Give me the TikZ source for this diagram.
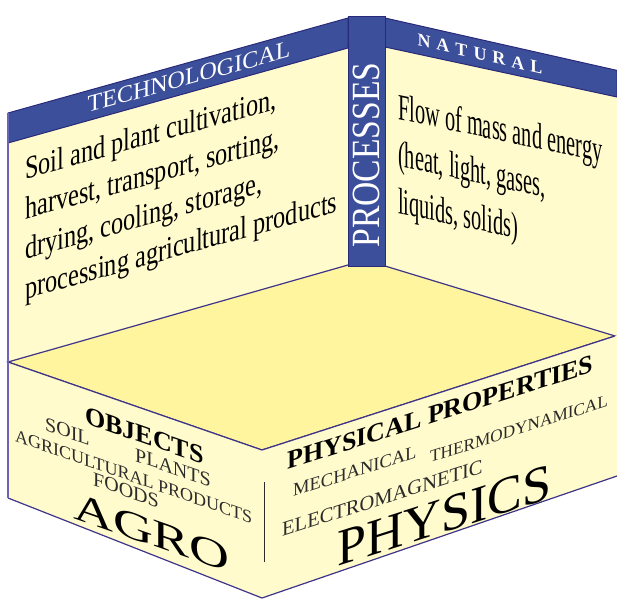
\documentclass[tikz,border=0pt]{standalone}
\usepackage{fontspec}
\setmainfont{Liberation Serif}
\newfontfamily\narrowL[FakeStretch=0.76]{Liberation Serif}
\newfontfamily\narrowR[FakeStretch=0.55]{Liberation Serif}
\newfontfamily\procfont[FakeStretch=0.84]{Liberation Serif}
\newfontfamily\widefont[FakeStretch=1.38]{Liberation Serif}
\usepackage{xcolor}
\usepackage{tikz}

\definecolor{bandblue}{HTML}{3C4F9A}
\definecolor{bandline}{HTML}{2A2A7A}
\definecolor{wallcream}{HTML}{FFFBCC}
\definecolor{flooryellow}{HTML}{FFF59E}
\definecolor{edgeline}{HTML}{3E3488}
\definecolor{sideline}{HTML}{6C64B4}
\definecolor{inkgray}{HTML}{2B2B2B}

\begin{document}
\begin{tikzpicture}[x=1pt, y=-1pt,
  band/.style={fill=bandblue, draw=bandline, line width=1pt},
  edge/.style={draw=edgeline, line width=1.2pt},
  bandtext/.style={text=white, inner sep=0pt, anchor=center},
  lefttext/.style={font=\narrowL\fontsize{32}{40}\selectfont, align=left, anchor=north west, inner sep=0pt, yslant=0.28},
  righttext/.style={font=\narrowR\fontsize{37}{47}\selectfont, align=left, anchor=north west, inner sep=0pt, yslant=-0.21},
  frontl/.style={font=\fontsize{#1}{#1}\selectfont, anchor=base west, inner sep=0pt, yslant=-0.35},
  frontr/.style={font=\fontsize{#1}{#1}\selectfont, anchor=base west, inner sep=0pt, yslant=0.32},
]
  \useasboundingbox (0,0) rectangle (617,601);

  % back walls
  \fill[wallcream] (8,113) -- (348,18) -- (348,265) -- (8,362) -- cycle;
  \fill[wallcream] (385,18) -- (617,70.4) -- (617,338) -- (385,266) -- cycle;

  % floor
  \filldraw[fill=flooryellow, edge] (8,362) -- (348,265) -- (385,266) -- (615,336) -- (262,450) -- cycle;

  % front faces
  \fill[wallcream] (8,362) -- (262,450) -- (262,598) -- (8,498) -- cycle;
  \fill[wallcream] (262,450) -- (615,336) -- (617,336) -- (617,476) -- (262,598) -- cycle;
  \draw[edge] (8,362) -- (262,450) -- (615,336);
  \draw[edge] (8,498) -- (262,598) -- (617,476);
  \draw[inkgray, line width=1pt] (264,482) -- (264,562);

  % bands and column
  \filldraw[band] (8,113) -- (348,18) -- (348,48) -- (8,143) -- cycle;
  \filldraw[band] (385,18) -- (617,70.4) -- (617,97) -- (385,47) -- cycle;
  \filldraw[band] (348,17) rectangle (385,266);
  \draw[sideline, line width=2pt] (8,113) -- (8,498);

  % headings
  \node[bandtext, font=\fontsize{24}{24}\selectfont, yslant=0.275] (techlabel) at (189,77) {TECHNOLOGICAL};
  \node[bandtext, font=\bfseries\fontsize{18}{18}\selectfont, yslant=-0.23] (natlabel) at (480,54)
    {N\kern6pt A\kern6pt T\kern6pt U\kern6pt R\kern6pt A\kern6pt L};
  \node[bandtext, font=\procfont\fontsize{40}{40}\selectfont, rotate=90] (proclabel) at (366,155) {PROCESSES};

  % wall texts
  \node[lefttext] (techtext) at (25,157)
    {Soil and plant cultivation,\\harvest, transport, sorting,\\drying, cooling, storage,\\processing agricultural products};
  \node[righttext] (nattext) at (398,93)
    {Flow of mass and energy\\(heat, light, gases,\\liquids, solids)};

  % agro face
  \node[frontl=26] (objects) at (85,423) {\bfseries OBJECTS};
  \node[frontl=20, text=inkgray] (soil) at (45,430) {SOIL};
  \node[frontl=20, text=inkgray] (plants) at (135,461) {PLANTS};
  \node[frontl=18, text=inkgray] (agriprod) at (15,441) {AGRICULTURAL PRODUCTS};
  \node[frontl=20, text=inkgray] (foods) at (93,485) {FOODS};
  \node[frontl=40] (agro) at (73,518) {\widefont AGRO};

  % physics face
  \node[frontr=26] (physprop) at (287,470) {\bfseries PHYSICAL PROPERTIES};
  \node[frontr=18.5, text=inkgray] (mech) at (293,497) {MECHANICAL};
  \node[frontr=17.2, text=inkgray] (thermo) at (430,463) {THERMODYNAMICAL};
  \node[frontr=20.5, text=inkgray] (electro) at (282,537) {ELECTROMAGNETIC};
  \node[frontr=52] (physics) at (337,567) {PHYSICS};
\end{tikzpicture}
\end{document}
